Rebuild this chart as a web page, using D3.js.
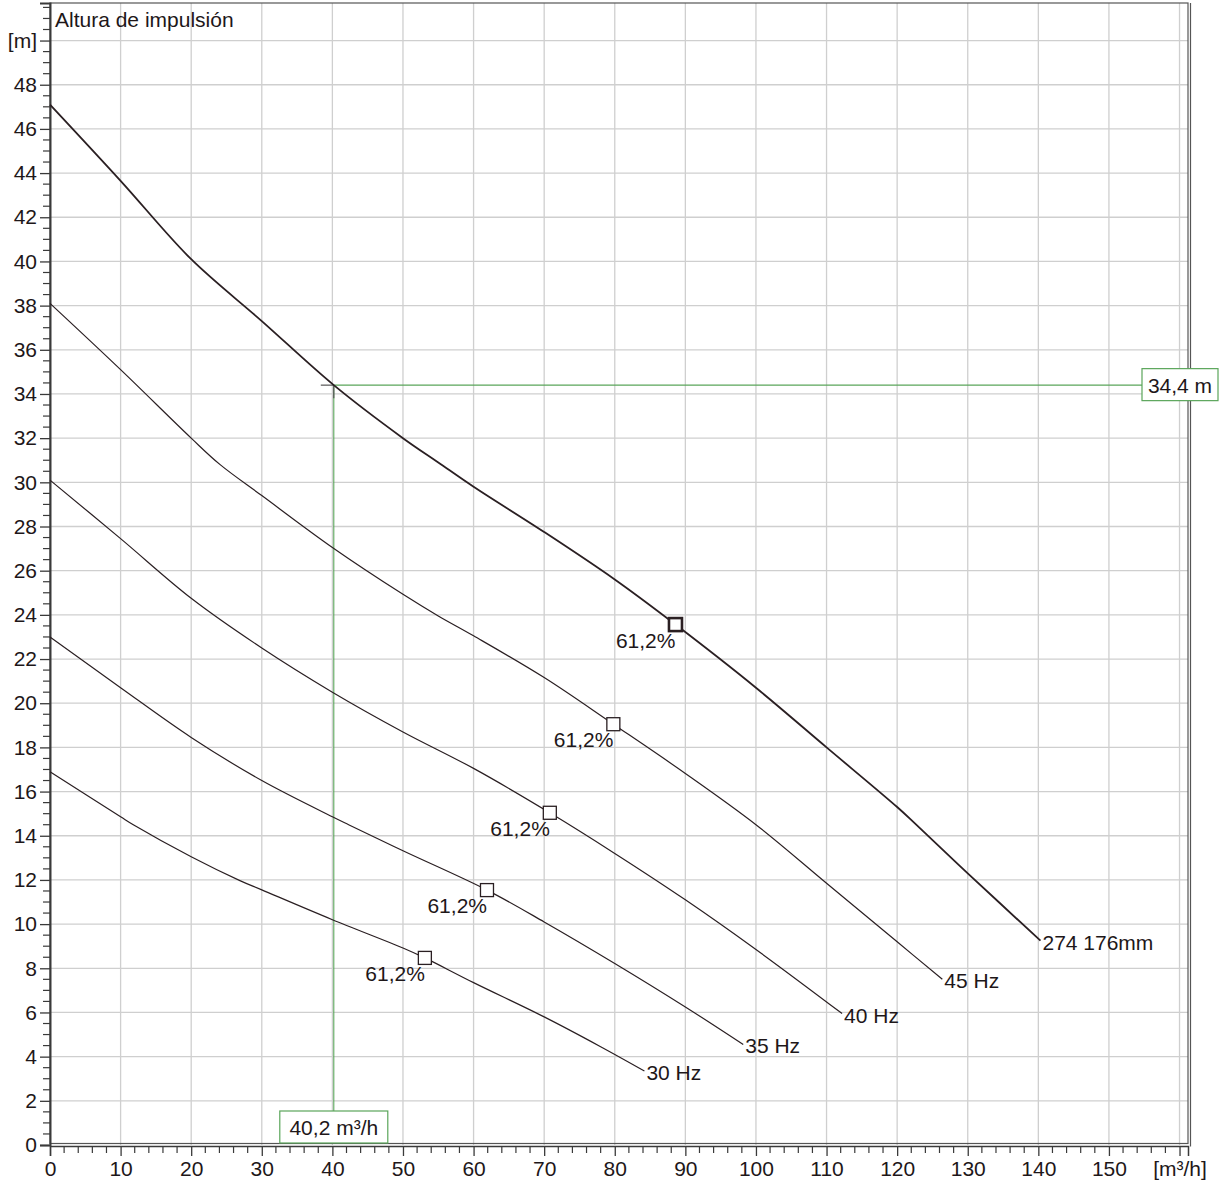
<!DOCTYPE html>
<html>
<head>
<meta charset="utf-8">
<script src="https://cdn.jsdelivr.net/npm/d3@7"></script>
<style>
  body { margin: 0; background: #fff; }
  svg text { font-family: Arial, "Liberation Sans", sans-serif; fill: #1e1719; }
  .grid line { stroke: #cfcfcf; stroke-width: 1.3; }
  .curve { fill: none; stroke: #2a1f22; stroke-width: 1.2; }
  .curve.main { stroke-width: 1.8; }
</style>
</head>
<body>
<svg width="1222" height="1186"></svg>
<script>
// pump curves (flow m³/h, head m)
var curveNames = ["274 176mm", "45 Hz", "40 Hz", "35 Hz", "30 Hz"];

var qTop = [0, 10, 20, 30, 40.2, 50, 55, 60, 70, 80, 88.6, 100, 110, 120, 122.7, 130, 140.3];
var hTop = [47.1, 43.65, 40.1, 37.3, 34.4, 32.0, 30.9, 29.8, 27.75, 25.6, 23.56, 20.7, 18.0, 15.3, 14.5, 12.3, 9.25];

var q45 = [0, 10, 20, 24.1, 30, 40, 50, 55, 60, 70, 79.8, 90, 100, 110, 120, 126.4];
var h45 = [38.1, 35.1, 32.0, 30.8, 29.4, 27.05, 24.93, 23.95, 23.05, 21.16, 19.05, 16.82, 14.5, 11.85, 9.2, 7.5];

var q40 = [0, 10, 20, 30, 40, 50, 60, 70.8, 80, 90, 100, 112.2];
var h40 = [30.1, 27.45, 24.75, 22.5, 20.5, 18.7, 17.05, 15.04, 13.2, 11.1, 8.85, 5.95];

var q35 = [0, 10, 20, 30, 40, 42.3, 50, 61.9, 70, 80, 90, 98.2];
var h35 = [23.0, 20.7, 18.45, 16.5, 14.86, 14.5, 13.32, 11.54, 10.1, 8.22, 6.25, 4.55];

var q30 = [0, 10, 11.8, 20, 26.9, 30, 40, 50, 53.1, 60, 70, 78, 84.2];
var h30 = [16.9, 14.86, 14.5, 13.05, 11.97, 11.55, 10.2, 8.92, 8.47, 7.35, 5.8, 4.45, 3.35];

// best efficiency points
var bepQ = [88.6, 79.8, 70.8, 61.9, 53.1];
var bepH = [23.56, 19.05, 15.04, 11.54, 8.47];
var bepText = "61,2%";

// duty point
var dutyQ = 40.2, dutyH = 34.4;
var dutyQText = "40,2 m³/h", dutyHText = "34,4 m";

var yTickLabels = d3.range(0, 50, 2).map(String).concat(["[m]"]);
var xTickLabels = d3.range(0, 160, 10).map(String).concat(["[m³/h]"]);
var yTitle = "Altura de impulsión";

var svg = d3.select("svg"),
    plotLeft = 50, plotRight = 1188, plotTop = 3, plotBottom = 1145;

var x = d3.scaleLinear().domain([0, 161.2]).range([plotLeft, plotRight]);
var y = d3.scaleLinear().domain([0, 51.7]).range([plotBottom, plotTop]);

var green = "#5aa55a", dark = "#3a3a3a";

// grid
var grid = svg.append("g").attr("class", "grid");
grid.selectAll(".v")
    .data(d3.range(10, 161, 10))
    .enter().append("line")
    .attr("x1", d => x(d)).attr("x2", d => x(d))
    .attr("y1", plotTop).attr("y2", plotBottom);
grid.selectAll(".h")
    .data(d3.range(2, 51, 2))
    .enter().append("line")
    .attr("x1", plotLeft).attr("x2", plotRight)
    .attr("y1", d => y(d)).attr("y2", d => y(d));

// frame (double line right and bottom)
svg.append("rect")
    .attr("x", plotLeft).attr("y", plotTop)
    .attr("width", plotRight - plotLeft).attr("height", plotBottom - 1.5 - plotTop)
    .attr("fill", "none").attr("stroke", "#555").attr("stroke-width", 1.2);
svg.append("line")
    .attr("x1", plotRight + 2.5).attr("x2", plotRight + 2.5)
    .attr("y1", plotTop).attr("y2", plotBottom + 1.5)
    .attr("stroke", "#555").attr("stroke-width", 1.2);

// axes
var xAxis = d3.axisBottom(x)
    .tickValues(d3.range(0, 161, 10))
    .tickSize(10).tickPadding(5)
    .tickFormat((d, i) => xTickLabels[i]);
var gx = svg.append("g")
    .attr("transform", "translate(0," + (plotBottom + 1) + ")")
    .call(xAxis);
gx.select(".domain").attr("stroke", dark).attr("stroke-width", 1.5);
gx.selectAll(".tick line").attr("stroke", dark).attr("stroke-width", 1.3);
gx.selectAll("text").style("font-size", "21px").attr("fill", "#1e1719");
gx.selectAll(".minor")
    .data(d3.range(0, 161, 2).filter(d => d % 10 !== 0))
    .enter().append("line")
    .attr("x1", d => x(d)).attr("x2", d => x(d))
    .attr("y1", 0).attr("y2", 7)
    .attr("stroke", dark).attr("stroke-width", 1.2);

var yAxis = d3.axisLeft(y)
    .tickValues(d3.range(0, 51, 2))
    .tickSize(10).tickPadding(3)
    .tickFormat((d, i) => yTickLabels[i]);
var gy = svg.append("g")
    .attr("transform", "translate(" + plotLeft + ",0)")
    .call(yAxis);
gy.select(".domain").attr("stroke", dark).attr("stroke-width", 2);
gy.selectAll(".tick line").attr("stroke", dark).attr("stroke-width", 1.3);
gy.selectAll("text").style("font-size", "21px").attr("fill", "#1e1719");
gy.selectAll(".minor")
    .data(d3.range(0, 51.6, 0.5).filter(d => d % 2 !== 0))
    .enter().append("line")
    .attr("x1", -7).attr("x2", 0)
    .attr("y1", d => y(d)).attr("y2", d => y(d))
    .attr("stroke", dark).attr("stroke-width", 1.2);

svg.append("text")
    .attr("x", plotLeft + 5).attr("y", 27)
    .style("font-size", "21px")
    .text(yTitle);

// duty point guides
var dx = x(dutyQ), dy = y(dutyH);
svg.append("line")
    .attr("x1", dx).attr("x2", 1142)
    .attr("y1", dy).attr("y2", dy)
    .attr("stroke", green).attr("stroke-width", 1.1);
svg.append("line")
    .attr("x1", dx).attr("x2", dx)
    .attr("y1", dy).attr("y2", 1111)
    .attr("stroke", green).attr("stroke-width", 1.1);
svg.append("line")
    .attr("x1", dx - 13).attr("x2", dx)
    .attr("y1", dy).attr("y2", dy)
    .attr("stroke", "#555").attr("stroke-width", 1.2);
svg.append("line")
    .attr("x1", dx).attr("x2", dx)
    .attr("y1", dy).attr("y2", dy + 13)
    .attr("stroke", "#555").attr("stroke-width", 1.2);

// curves
var series = [[qTop, hTop], [q45, h45], [q40, h40], [q35, h35], [q30, h30]];
var line = d3.line()
    .x(d => x(d[0]))
    .y(d => y(d[1]))
    .curve(d3.curveCatmullRom.alpha(0.5));

series.forEach(function(s, i) {
    var pts = s[0].map((q, j) => [q, s[1][j]]);
    svg.append("path")
        .datum(pts)
        .attr("class", i === 0 ? "curve main" : "curve")
        .attr("d", line);
    var last = pts[pts.length - 1];
    svg.append("text")
        .attr("x", x(last[0]) + 2)
        .attr("y", y(last[1]) + 9)
        .style("font-size", "21px")
        .text(curveNames[i]);
});

// best efficiency markers
bepQ.forEach(function(q, i) {
    var bx = x(q), by = y(bepH[i]);
    svg.append("rect")
        .attr("x", bx - 6.5).attr("y", by - 6.5)
        .attr("width", 13).attr("height", 13)
        .attr("fill", "#fff")
        .attr("stroke", "#2a1f22")
        .attr("stroke-width", i === 0 ? 2.6 : 1.3);
    svg.append("text")
        .attr("x", bx).attr("y", by + 23)
        .attr("text-anchor", "end")
        .style("font-size", "21px")
        .text(bepText);
});

// value boxes
var qBox = svg.append("g").attr("transform", "translate(" + dx + ",1111)");
qBox.append("rect")
    .attr("x", -54).attr("y", 0).attr("width", 108).attr("height", 32)
    .attr("fill", "#fff").attr("stroke", green).attr("stroke-width", 1.2);
qBox.append("text")
    .attr("y", 24).attr("text-anchor", "middle")
    .style("font-size", "21px")
    .text(dutyQText);

var hBox = svg.append("g").attr("transform", "translate(1142," + dy + ")");
hBox.append("rect")
    .attr("x", 0).attr("y", -16.5).attr("width", 76).attr("height", 32)
    .attr("fill", "#fff").attr("stroke", green).attr("stroke-width", 1.2);
hBox.append("text")
    .attr("x", 38).attr("y", 8).attr("text-anchor", "middle")
    .style("font-size", "21px")
    .text(dutyHText);
</script>
</body>
</html>
